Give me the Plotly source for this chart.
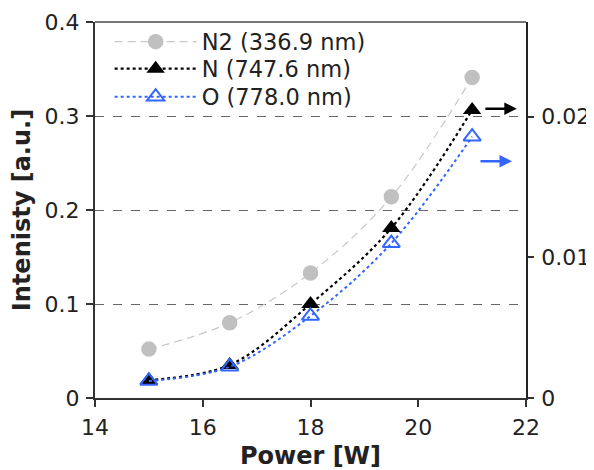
import plotly.graph_objects as go

# ---- data ----
power = [15, 16.5, 18, 19.5, 21]
n2_336 = [0.052, 0.080, 0.133, 0.214, 0.341]      # left axis
n_747 = [0.00128, 0.00235, 0.00668, 0.01208, 0.02047]  # right axis
o_778 = [0.00121, 0.00222, 0.00583, 0.01100, 0.01857]  # right axis

names = ["N2 (336.9 nm)", "N (747.6 nm)", "O (778.0 nm)"]
x_ticks = [14, 16, 18, 20, 22]
y_ticks = [0, 0.1, 0.2, 0.3, 0.4]
y2_ticks = [0, 0.01, 0.02]
y2_labels = ["0", "0.01", "0.02"]

FONT = "DejaVu Sans"
BLUE = "#3366FF"
TXT = "#222222"

fig = go.Figure()
fig.add_trace(go.Scatter(
    x=power, y=n2_336, name=names[0], mode="lines+markers", legend="legend",
    line=dict(color="#C8C8C8", width=1.2, dash="8px,5px", shape="spline"),
    marker=dict(symbol="circle", size=15.5, color="#C0C0C0"),
))
fig.add_trace(go.Scatter(
    x=power, y=n_747, name=names[1], mode="lines+markers", yaxis="y2", legend="legend2",
    line=dict(color="black", width=2.2, dash="3px,3px", shape="spline"),
    marker=dict(symbol="triangle-up", size=16, color="black"),
))
fig.add_trace(go.Scatter(
    x=power, y=o_778, name=names[2], mode="lines+markers", yaxis="y2", legend="legend3",
    line=dict(color=BLUE, width=2, dash="3px,3px", shape="spline"),
    marker=dict(symbol="triangle-up-open", size=15, color=BLUE, line=dict(width=2, color=BLUE)),
))

# arrows pointing to the right axis
for xv, yv, col in [(21.83, 0.3078, "black"), (21.74, 0.2518, BLUE)]:
    fig.add_annotation(x=xv, y=yv, xref="x", yref="y",
                       ax=-33, ay=0, axref="pixel", ayref="pixel", text="",
                       showarrow=True, arrowhead=2, arrowsize=1.0, arrowwidth=2.5,
                       arrowcolor=col)

# top border
fig.add_shape(type="line", xref="paper", yref="paper", x0=0, x1=1, y0=1, y1=1,
              line=dict(color="#777777", width=2))

def leg(yv):
    return dict(x=0.034, y=yv, xanchor="left", yanchor="middle",
                bgcolor="rgba(0,0,0,0)", font=dict(size=22.5, color=TXT),
                itemwidth=82, tracegroupgap=0)

fig.update_layout(
    width=586, height=462,
    margin=dict(l=87, r=68, t=14, b=72, autoexpand=False),
    paper_bgcolor="white", plot_bgcolor="white",
    font=dict(family=FONT, size=22, color=TXT),
    showlegend=True,
    legend=leg(0.9468), legend2=leg(0.875), legend3=leg(0.8005),
    xaxis=dict(range=[14, 22], tickvals=x_ticks, ticks="outside", ticklen=7,
               tickcolor="#333333", tickwidth=1.5, automargin=False, ticklabelstandoff=2,
               showline=True, linecolor="#333333", linewidth=2,
               showgrid=False, zeroline=False,
               title=dict(text="<b>Power [W]</b>", font=dict(size=24, color=TXT), standoff=12)),
    yaxis=dict(range=[0, 0.4], tickvals=y_ticks, ticks="outside", ticklen=7,
               tickcolor="#333333", tickwidth=1.5, automargin=False, ticklabelstandoff=2,
               showline=True, linecolor="#333333", linewidth=2,
               showgrid=True, gridcolor="#666666", griddash="dash", gridwidth=1,
               zeroline=False,
               title=dict(text="<b>Intenisty [a.u.]</b>", font=dict(size=24, color=TXT), standoff=10)),
    yaxis2=dict(range=[0, 0.02672], overlaying="y", side="right",
                tickvals=y2_ticks, ticktext=y2_labels, ticks="outside", ticklen=6,
                tickcolor="#333333", tickwidth=1.5, automargin=False, ticklabelstandoff=3,
                showline=True, linecolor="#222222", linewidth=1.5,
                showgrid=False, zeroline=False),
    # inner half of the crossing ticks on the right axis
    yaxis3=dict(range=[0, 0.02672], overlaying="y", side="right",
                tickvals=y2_ticks, ticks="inside", ticklen=6,
                tickcolor="#333333", tickwidth=1.5, automargin=False,
                showticklabels=False, showline=False, showgrid=False, zeroline=False),
)

fig.write_html("out.html")
